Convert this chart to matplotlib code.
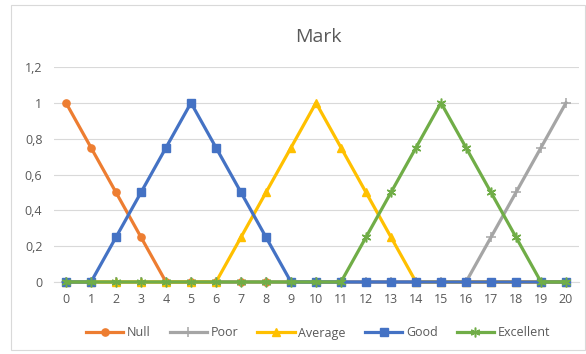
import matplotlib
matplotlib.use("Agg")
import matplotlib.pyplot as plt
from matplotlib.patches import Rectangle

# data
x = list(range(21))
null_vals = [1, 0.75, 0.5, 0.25] + [0] * 17
poor_vals = [0] * 17 + [0.25, 0.5, 0.75, 1]
average_vals = [0] * 7 + [0.25, 0.5, 0.75, 1, 0.75, 0.5, 0.25] + [0] * 7
good_vals = [0, 0, 0.25, 0.5, 0.75, 1, 0.75, 0.5, 0.25] + [0] * 12
excellent_vals = [0] * 12 + [0.25, 0.5, 0.75, 1, 0.75, 0.5, 0.25, 0, 0]
y_ticks = [0, 0.2, 0.4, 0.6, 0.8, 1, 1.2]
y_labels = ["0", "0,2", "0,4", "0,6", "0,8", "1", "1,2"]

plt.rcParams['font.family'] = ['Open Sans', 'DejaVu Sans']

fig = plt.figure(figsize=(5.86, 3.54), dpi=100)
fig.patches.append(Rectangle((11/586, 4/354), 574/586, 345/354, transform=fig.transFigure,
                             fill=False, edgecolor="#d9d9d9", lw=0.8))
ax = fig.add_axes([53.5/586, 72/354, 525/586, 215/354])

series = [
    ("Null", null_vals, "#ED7D31", "o", 5.2, 1),
    ("Poor", poor_vals, "#A5A5A5", "+", 7, 1.1),
    ("Average", average_vals, "#FFC000", "^", 5.5, 1),
    ("Good", good_vals, "#4472C4", "s", 5.2, 1),
    ("Excellent", excellent_vals, "#70AD47", (6, 2, 0), 7, 1.1),
]
for name, vals, col, mk, ms, mew in series:
    ax.plot(x, vals, color=col, lw=2.3, marker=mk, markersize=ms,
            markeredgewidth=mew, markeredgecolor=col, label=name)

ax.set_xlim(-0.5, 20.5)
ax.set_ylim(0, 1.2)
ax.set_xticks(x)
ax.set_yticks(y_ticks)
ax.set_yticklabels(y_labels)
ax.tick_params(length=0, colors="#595959", labelsize=9, pad=8)
ax.grid(axis="y", color="#d9d9d9", lw=0.8)
ax.set_axisbelow(True)
for s in ["top", "right", "left"]:
    ax.spines[s].set_visible(False)
ax.spines["bottom"].set_color("#d9d9d9")
ax.spines["bottom"].set_zorder(0.5)
for ln in ax.lines:
    ln.set_clip_on(False)

fig.text(318/586, 1 - 37/354, "Mark", ha="center", va="center", fontsize=14, color="#595959")

fig.legend(loc="center", bbox_to_anchor=(318/586, 1 - 333/354), ncol=5, frameon=False,
           fontsize=9, labelcolor="#595959", handlelength=3, columnspacing=1.5, handletextpad=0.3)

fig.savefig("out.png", dpi=100)
